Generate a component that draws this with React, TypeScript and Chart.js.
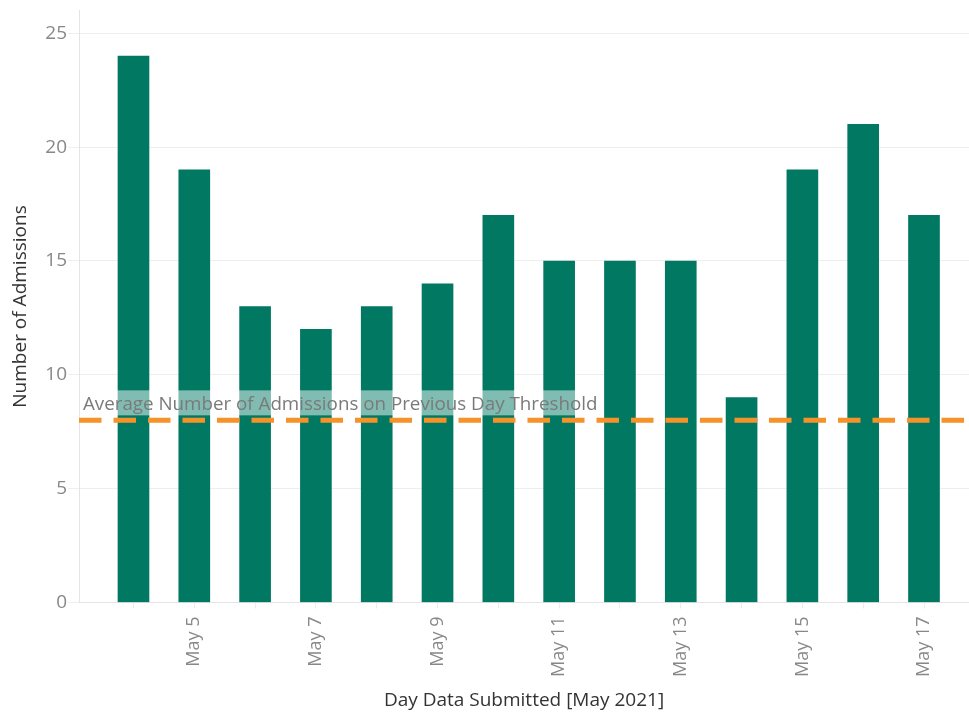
import { useEffect, useRef } from 'react';
import { Chart, registerables } from 'chart.js';

Chart.register(...registerables);

const days = [4, 5, 6, 7, 8, 9, 10, 11, 12, 13, 14, 15, 16, 17];
const admissions = [24, 19, 13, 12, 13, 14, 17, 15, 15, 15, 9, 19, 21, 17];
const labelledDays = [5, 7, 9, 11, 13, 15, 17];
const monthName = 'May';
const yTicks = [0, 5, 10, 15, 20, 25];
const thresholdValue = 8;
const thresholdLabel = 'Average Number of Admissions on Previous Day Threshold';
const xTitle = 'Day Data Submitted [May 2021]';
const yTitle = 'Number of Admissions';

const FONT = '"Open Sans", "DejaVu Sans", sans-serif';

const thresholdPlugin = {
  id: 'thresholdPlugin',
  afterDatasetsDraw(chart: any) {
    const { ctx, chartArea, scales } = chart;
    const yPix = scales.y.getPixelForValue(thresholdValue);
    ctx.save();
    let size = 18;
    ctx.font = `${size}px ${FONT}`;
    const w0 = ctx.measureText(thresholdLabel).width;
    size = (size * 515) / w0;
    ctx.font = `${size}px ${FONT}`;
    const w = ctx.measureText(thresholdLabel).width;
    const textX = chartArea.left + 4;
    ctx.fillStyle = 'rgba(255,255,255,0.5)';
    ctx.fillRect(chartArea.left + 1, yPix - 30, w + 8, 25);
    ctx.fillStyle = '#7a7a7a';
    ctx.textBaseline = 'middle';
    ctx.textAlign = 'left';
    ctx.fillText(thresholdLabel, textX, yPix - 16);
    ctx.beginPath();
    ctx.setLineDash([22.5, 12]);
    ctx.lineWidth = 5;
    ctx.strokeStyle = '#F5922A';
    ctx.moveTo(chartArea.left, yPix);
    ctx.lineTo(chartArea.right, yPix);
    ctx.stroke();
    ctx.restore();
  },
};

export default function App() {
  const ref = useRef<HTMLCanvasElement>(null);
  useEffect(() => {
    document.body.style.margin = '0';
    const canvas = ref.current;
    if (!canvas) return;
    const chart = new Chart(canvas, {
      type: 'bar',
      data: {
        datasets: [
          {
            data: days.map((d, i) => ({ x: d, y: admissions[i] })),
            backgroundColor: '#007862',
            borderWidth: 0,
            barThickness: 31,
          },
        ],
      },
      options: {
        animation: false,
        responsive: false,
        devicePixelRatio: 1,
        layout: { padding: { top: 10, left: 0, right: 0, bottom: 0 } },
        plugins: { legend: { display: false }, tooltip: { enabled: false } },
        scales: {
          x: {
            type: 'linear',
            min: 3.104,
            max: 17.74,
            offset: false,
            afterBuildTicks: (scale: any) => {
              scale.ticks = days.map((v) => ({ value: v }));
            },
            afterFit: (scale: any) => {
              scale.height = 109.5;
            },
            ticks: {
              autoSkip: false,
              minRotation: 90,
              maxRotation: 90,
              padding: 8,
              color: '#888888',
              font: { family: FONT, size: 18 },
              callback: (v: any) => (labelledDays.includes(Number(v)) ? `${monthName} ${v}` : ''),
            },
            grid: {
              offset: false,
              drawOnChartArea: false,
              drawTicks: true,
              tickLength: 6,
              color: '#ececec',
            },
            border: { display: true, color: '#e4e4e4', width: 1 },
            title: {
              display: true,
              text: xTitle,
              color: '#333333',
              font: { family: FONT, size: 19 },
              padding: { top: 0, bottom: 0 },
            },
          },
          y: {
            type: 'linear',
            min: 0,
            max: 26,
            afterBuildTicks: (scale: any) => {
              scale.ticks = yTicks.map((v) => ({ value: v }));
            },
            afterFit: (scale: any) => {
              scale.width = 79;
            },
            ticks: {
              padding: 1,
              color: '#888888',
              font: { family: FONT, size: 19, lineHeight: 1 },
            },
            grid: {
              color: '#eeeeee',
              tickLength: 11,
              drawTicks: true,
            },
            border: { display: true, color: '#e4e4e4', width: 1 },
            title: {
              display: true,
              text: yTitle,
              color: '#333333',
              font: { family: FONT, size: 19 },
              padding: { top: 9, bottom: 0 },
            },
          },
        },
      },
      plugins: [thresholdPlugin],
    });
    return () => chart.destroy();
  }, []);
  return (
    <div style={{ width: 969, height: 712 }}>
      <canvas ref={ref} width={969} height={712} />
    </div>
  );
}
